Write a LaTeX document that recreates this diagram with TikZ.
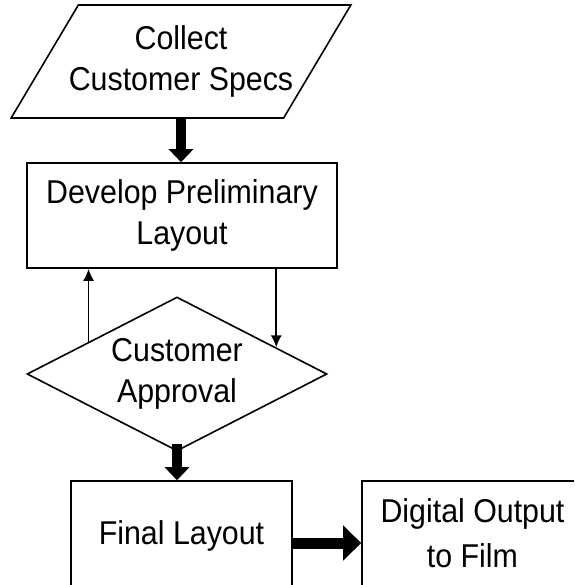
\documentclass[tikz,border=0pt]{standalone}
\usepackage{fontspec}
\setmainfont{Liberation Sans}[FakeStretch=0.92]
\usepackage{tikz}
\usetikzlibrary{positioning}
\usetikzlibrary{arrows.meta}
\usetikzlibrary{shapes}

\begin{document}
\begin{tikzpicture} [
    x=1pt, y=1pt,                  % work in pixels of the page
    node distance=150pt,           % Global setup of box spacing
    ]
% -------------------------------------------------
\tikzset{
  base/.style={draw, line width=1.6pt, on grid, align=center, inner sep=0pt,
    font=\fontsize{33}{41}\selectfont},
  io/.style={base, trapezium, trapezium left angle=47, trapezium right angle=133,
    trapezium stretches=true, inner xsep=-10pt, minimum width=341pt, minimum height=113pt},
  rect/.style={base, rectangle, minimum width=310pt, minimum height=105pt},
  decide/.style={base, diamond, aspect=2, minimum width=300pt, minimum height=154pt},
  stage/.style={rect, minimum width=221pt, minimum height=124pt, text depth=20pt},
  line/.style={draw, line width=1.6pt, -{Latex[width=11pt, length=12pt]}},
  fat/.style={draw, line width=10pt, -{Triangle[width=24pt, length=13pt]}},
}
    \useasboundingbox (0,0) rectangle (574,-585);
    \clip (0,0) rectangle (574,-585);

    \node [io] (specs) at (181,-61.5) {Collect\\Customer Specs};
    \node [rect, below=154pt of specs, xshift=1pt] (dev) {Develop Preliminary\\Layout};
    \node [decide, below=158.5pt of dev, xshift=-5pt] (dia) {Customer\\Approval};
    \node [stage, below=169pt of dia, xshift=4.5pt] (final) {Final Layout};
    \node [stage, right=291pt of final, font=\fontsize{33}{45}\selectfont] (film) {Digital Output\\to Film};

    \path [fat] (specs.south) -- (specs.south |- dev.north);
    \path [line] (dia.160) -- (dia.160 |- dev.south);
    \path [line] (dia.15 |- dev.south) -- (dia.15);
    \path [fat, shorten <=-8pt] (dia.south) -- (dia.south |- final.north);
    \path [fat, line width=11pt, -{Triangle[width=34pt, length=18pt]}] (final.east) -- (film.west);

\end{tikzpicture}
\end{document}
